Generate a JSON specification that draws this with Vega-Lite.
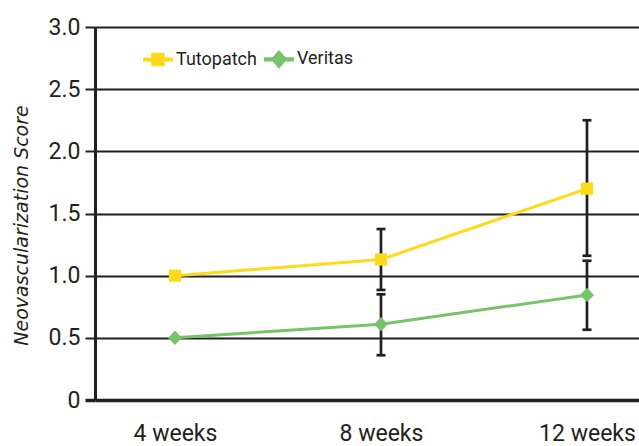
{
  "$schema": "https://vega.github.io/schema/vega-lite/v6.json",
  "width": 544,
  "height": 373,
  "autosize": {"type": "none"},
  "padding": {"left": 95, "top": 27, "right": 0, "bottom": 46},
  "background": "white",
  "config": {
    "view": {"stroke": null},
    "font": "Roboto"
  },
  "data": {
    "values": [
      {"week": 4, "series": "Tutopatch", "score": 1.0},
      {"week": 8, "series": "Tutopatch", "score": 1.13, "lo": 0.885, "hi": 1.375},
      {"week": 12, "series": "Tutopatch", "score": 1.70, "lo": 1.16, "hi": 2.25},
      {"week": 4, "series": "Veritas", "score": 0.5},
      {"week": 8, "series": "Veritas", "score": 0.61, "lo": 0.36, "hi": 0.85},
      {"week": 12, "series": "Veritas", "score": 0.845, "lo": 0.565, "hi": 1.12}
    ]
  },
  "encoding": {
    "x": {
      "field": "week", "type": "quantitative",
      "scale": {"domain": [2.447, 13.01], "nice": false, "zero": false},
      "axis": {
        "values": [4, 8, 12], "title": null, "grid": false, "domain": false, "ticks": false,
        "labelExpr": "datum.value + ' weeks'", "labelFontSize": 23, "labelColor": "#231f20",
        "labelPadding": 22, "labelFont": "Roboto"
      }
    }
  },
  "layer": [
    {
      "mark": {"type": "line", "strokeWidth": 3},
      "encoding": {
        "y": {
          "field": "score", "type": "quantitative",
          "scale": {"domain": [0, 3], "nice": false},
          "axis": {
            "values": [0, 0.5, 1, 1.5, 2, 2.5, 3],
            "labelExpr": "datum.value == 0 ? '0' : format(datum.value, '.1f')",
            "title": "Neovascularization Score",
            "titleFont": "DejaVu Sans", "titleFontStyle": "italic", "titleFontWeight": "normal",
            "titleFontSize": 19, "titleColor": "#231f20", "titlePadding": 17, "titleY": 198,
            "labelFontSize": 23, "labelColor": "#231f20", "labelPadding": 5, "labelFont": "Roboto",
            "grid": true, "gridColor": "#231f20",
            "gridWidth": {"condition": {"test": "datum.value === 0", "value": 3.5}, "value": 2},
            "domain": true, "domainColor": "#231f20", "domainWidth": 3,
            "ticks": true, "tickSize": 10, "tickColor": "#231f20",
            "tickWidth": {"condition": {"test": "datum.value === 0", "value": 3.5}, "value": 2}
          }
        },
        "color": {
          "field": "series", "type": "nominal",
          "scale": {"domain": ["Tutopatch", "Veritas"], "range": ["#FFD91A", "#77C36A"]},
          "legend": {
            "orient": "none", "legendX": 48, "legendY": 17, "direction": "horizontal",
            "title": null, "labelFontSize": 18, "labelFont": "Roboto", "labelColor": "#231f20",
            "symbolSize": 900, "columnPadding": 7, "labelOffset": 3, "symbolStrokeWidth": 0,
            "symbolType": "square",
            "encode": {
              "symbols": {
                "update": {
                  "shape": {"signal": "datum.value == 'Tutopatch' ? 'M-1,-0.14H1V0.14H-1Z M-0.45,-0.45H0.45V0.45H-0.45Z' : 'M-1,-0.14H1V0.14H-1Z M0,-0.62L0.55,0L0,0.62L-0.55,0Z'"},
                  "fill": {"signal": "datum.value == 'Tutopatch' ? '#FFD91A' : '#45B04A'"},
                  "strokeWidth": {"value": 0},
                  "opacity": {"value": 1}
                }
              }
            }
          }
        }
      }
    },
    {
      "transform": [{"filter": "isValid(datum.lo)"}],
      "mark": {"type": "rule", "color": "#231f20", "strokeWidth": 2.7},
      "encoding": {
        "y": {"field": "lo", "type": "quantitative"},
        "y2": {"field": "hi"}
      }
    },
    {
      "transform": [{"filter": "isValid(datum.lo)"}],
      "mark": {"type": "tick", "color": "#231f20", "orient": "horizontal", "size": 9, "thickness": 2.7, "opacity": 1},
      "encoding": {
        "y": {"field": "lo", "type": "quantitative"}
      }
    },
    {
      "transform": [{"filter": "isValid(datum.hi)"}],
      "mark": {"type": "tick", "color": "#231f20", "orient": "horizontal", "size": 9, "thickness": 2.7, "opacity": 1},
      "encoding": {
        "y": {"field": "hi", "type": "quantitative"}
      }
    },
    {
      "transform": [{"filter": "datum.series == 'Tutopatch'"}],
      "mark": {"type": "point", "filled": true, "opacity": 1, "size": 150, "shape": "square"},
      "encoding": {
        "y": {"field": "score", "type": "quantitative"},
        "color": {"field": "series", "type": "nominal"}
      }
    },
    {
      "transform": [{"filter": "datum.series == 'Veritas'"}],
      "mark": {"type": "point", "filled": true, "opacity": 1, "size": 200, "shape": "diamond"},
      "encoding": {
        "y": {"field": "score", "type": "quantitative"},
        "color": {"field": "series", "type": "nominal"}
      }
    }
  ]
}
